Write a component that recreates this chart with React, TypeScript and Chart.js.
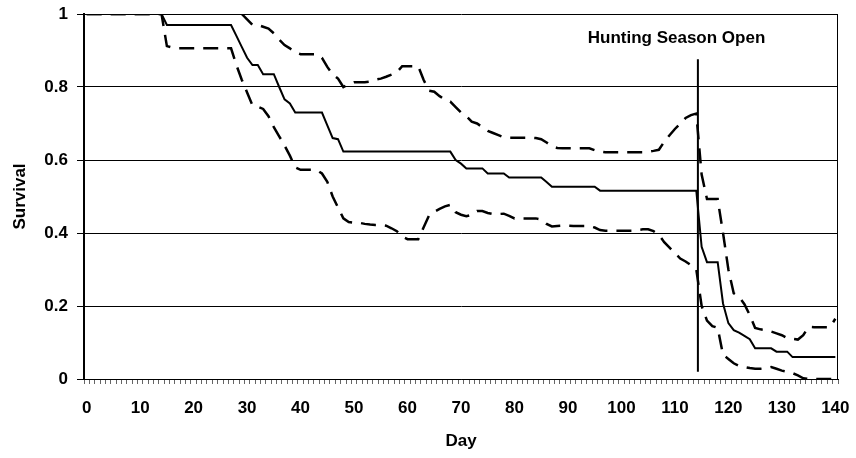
import React, { useEffect, useRef } from 'react';
import { Chart, registerables } from 'chart.js';

Chart.register(...registerables);

// ---- Data ----
const days = [
  0, 1, 2, 3, 4, 5, 6, 7, 8, 9,
  10, 11, 12, 13, 14, 15, 16, 17, 18, 19,
  20, 21, 22, 23, 24, 25, 26, 27, 28, 29,
  30, 31, 32, 33, 34, 35, 36, 37, 38, 39,
  40, 41, 42, 43, 44, 45, 46, 47, 48, 49,
  50, 51, 52, 53, 54, 55, 56, 57, 58, 59,
  60, 61, 62, 63, 64, 65, 66, 67, 68, 69,
  70, 71, 72, 73, 74, 75, 76, 77, 78, 79,
  80, 81, 82, 83, 84, 85, 86, 87, 88, 89,
  90, 91, 92, 93, 94, 95, 96, 97, 98, 99,
  100, 101, 102, 103, 104, 105, 106, 107, 108, 109,
  110, 111, 112, 113, 114, 115, 116, 117, 118, 119,
  120, 121, 122, 123, 124, 125, 126, 127, 128, 129,
  130, 131, 132, 133, 134, 135, 136, 137, 138, 139,
  140,
];

const xTickLabels = ['0', '10', '20', '30', '40', '50', '60', '70', '80', '90', '100', '110', '120', '130', '140'];
const yTickLabels = ['0', '0.2', '0.4', '0.6', '0.8', '1'];

const survival = [
  1, 1, 1, 1, 1, 1, 1, 1, 1, 1,
  1, 1, 1, 1, 1, 0.97, 0.97, 0.97, 0.97, 0.97,
  0.97, 0.97, 0.97, 0.97, 0.97, 0.97, 0.97, 0.97, 0.94, 0.91,
  0.88, 0.86, 0.86, 0.835, 0.835, 0.835, 0.8, 0.766, 0.755, 0.73,
  0.73, 0.73, 0.73, 0.73, 0.73, 0.695, 0.66, 0.657, 0.623, 0.623,
  0.623, 0.623, 0.623, 0.623, 0.623, 0.623, 0.623, 0.623, 0.623, 0.623,
  0.623, 0.623, 0.623, 0.623, 0.623, 0.623, 0.623, 0.623, 0.623, 0.6,
  0.59, 0.577, 0.577, 0.577, 0.577, 0.563, 0.563, 0.563, 0.563, 0.552,
  0.552, 0.552, 0.552, 0.552, 0.552, 0.552, 0.54, 0.527, 0.527, 0.527,
  0.527, 0.527, 0.527, 0.527, 0.527, 0.527, 0.516, 0.516, 0.516, 0.516,
  0.516, 0.516, 0.516, 0.516, 0.516, 0.516, 0.516, 0.516, 0.516, 0.516,
  0.516, 0.516, 0.516, 0.516, 0.516, 0.362, 0.32, 0.32, 0.32, 0.207,
  0.153, 0.134, 0.127, 0.118, 0.109, 0.084, 0.084, 0.084, 0.084, 0.075,
  0.075, 0.075, 0.06, 0.06, 0.06, 0.06, 0.06, 0.06, 0.06, 0.06,
  0.06,
];

const upperCI = [
  1, 1, 1, 1, 1, 1, 1, 1, 1, 1,
  1, 1, 1, 1, 1, null, null, null, null, null,
  null, null, null, null, null, null, null, null, null, 1,
  0.985, 0.97, 0.97, 0.965, 0.96, 0.947, 0.93, 0.915, 0.906, 0.895,
  0.89, 0.89, 0.89, 0.89, 0.88, 0.855, 0.835, 0.823, 0.8, 0.808,
  0.813, 0.813, 0.813, 0.815, 0.82, 0.823, 0.828, 0.834, 0.84, 0.857,
  0.857, 0.857, 0.857, 0.82, 0.79, 0.787, 0.775, 0.765, 0.76, 0.745,
  0.73, 0.72, 0.705, 0.7, 0.69, 0.68, 0.674, 0.668, 0.662, 0.661,
  0.661, 0.661, 0.661, 0.661, 0.66, 0.657, 0.648, 0.638, 0.633, 0.632,
  0.632, 0.632, 0.632, 0.632, 0.632, 0.627, 0.623, 0.621, 0.621, 0.621,
  0.621, 0.621, 0.621, 0.621, 0.621, 0.623, 0.625, 0.628, 0.65, 0.668,
  0.685, 0.7, 0.715, 0.723, 0.727, 0.56, 0.493, 0.493, 0.493, 0.4,
  0.3, 0.235, 0.225, 0.205, 0.175, 0.14, 0.136, 0.134, 0.13, 0.125,
  0.12, 0.112, 0.11, 0.108, 0.12, 0.143, 0.142, 0.142, 0.142, 0.142,
  0.165,
];

const lowerCI = [
  1, 1, 1, 1, 1, 1, 1, 1, 1, 1,
  1, 1, 1, 1, 1, 0.912, 0.908, 0.906, 0.906, 0.906,
  0.906, 0.906, 0.906, 0.906, 0.906, 0.906, 0.906, 0.906, 0.86, 0.82,
  0.785, 0.75, 0.746, 0.74, 0.72, 0.69, 0.665, 0.64, 0.612, 0.58,
  0.573, 0.573, 0.573, 0.573, 0.563, 0.54, 0.5, 0.47, 0.44, 0.43,
  0.428, 0.428, 0.425, 0.423, 0.422, 0.422, 0.42, 0.413, 0.405, 0.39,
  0.383, 0.383, 0.383, 0.415, 0.447, 0.458, 0.466, 0.473, 0.477, 0.457,
  0.45, 0.446, 0.45, 0.46, 0.46, 0.455, 0.452, 0.452, 0.453, 0.447,
  0.44, 0.44, 0.44, 0.44, 0.44, 0.437, 0.425, 0.418, 0.419, 0.42,
  0.42, 0.419, 0.419, 0.419, 0.419, 0.415, 0.408, 0.406, 0.406, 0.406,
  0.406, 0.406, 0.406, 0.408, 0.41, 0.41, 0.405, 0.395, 0.375, 0.36,
  0.345, 0.33, 0.322, 0.312, 0.3, 0.2, 0.16, 0.145, 0.14, 0.066,
  0.055, 0.043, 0.036, 0.033, 0.03, 0.028, 0.028, 0.03, 0.033, 0.028,
  0.023, 0.02, 0.016, 0.01, 0.002, 0, 0, 0, 0, 0,
  0,
];

// Annotation: vertical marker for the start of the hunting season
const huntingDay = 114.3;
const huntingLineTop = 0.876;
const huntingLineBottom = 0.02;
const huntingLabel = 'Hunting Season Open';
const huntingLabelDay = 110.3;
const huntingLabelValue = 0.92;

const FONT = 'Arial, "Liberation Sans", Helvetica, sans-serif';
const FONT_SIZE = 17;

const overlayPlugin = {
  id: 'overlay',
  afterDatasetsDraw(chart: any) {
    const { ctx, chartArea, scales } = chart;
    const x = scales.x;
    const y = scales.y;
    ctx.save();
    // plot-area frame (right edge)
    ctx.strokeStyle = '#000';
    ctx.lineWidth = 1;
    ctx.beginPath();
    ctx.moveTo(chartArea.right - 0.5, chartArea.top);
    ctx.lineTo(chartArea.right - 0.5, chartArea.bottom);
    ctx.stroke();
    // hunting season marker
    const hx = x.getPixelForValue(huntingDay);
    ctx.lineWidth = 2;
    ctx.beginPath();
    ctx.moveTo(hx, y.getPixelForValue(huntingLineTop));
    ctx.lineTo(hx, y.getPixelForValue(huntingLineBottom));
    ctx.stroke();
    ctx.font = `bold ${FONT_SIZE}px ${FONT}`;
    ctx.fillStyle = '#000';
    ctx.textAlign = 'center';
    ctx.textBaseline = 'alphabetic';
    ctx.fillText(huntingLabel, x.getPixelForValue(huntingLabelDay), y.getPixelForValue(huntingLabelValue));
    ctx.restore();
  },
};

export default function App() {
  const canvasRef = useRef<HTMLCanvasElement | null>(null);

  useEffect(() => {
    const canvas = canvasRef.current;
    if (!canvas) return;
    const tickFont = { family: FONT, size: FONT_SIZE, weight: 'bold' as const };
    const chart = new Chart(canvas, {
      type: 'line',
      data: {
        labels: days.map(String),
        datasets: [
          {
            label: 'Survival',
            data: survival,
            borderColor: '#000',
            borderWidth: 2,
            pointRadius: 0,
            tension: 0,
            fill: false,
          },
          {
            label: 'Upper 95% CI',
            data: upperCI,
            borderColor: '#000',
            borderWidth: 2.5,
            borderDash: [15, 9],
            pointRadius: 0,
            tension: 0,
            fill: false,
            spanGaps: false,
          },
          {
            label: 'Lower 95% CI',
            data: lowerCI,
            borderColor: '#000',
            borderWidth: 2.5,
            borderDash: [15, 9],
            pointRadius: 0,
            tension: 0,
            fill: false,
          },
        ],
      },
      options: {
        responsive: false,
        animation: false,
        devicePixelRatio: 1,
        layout: { padding: { left: 0, right: 18, top: 14, bottom: 0 } },
        plugins: {
          legend: { display: false },
          tooltip: { enabled: false },
        },
        scales: {
          x: {
            type: 'category',
            offset: true,
            grid: {
              display: true,
              drawOnChartArea: false,
              drawTicks: true,
              tickLength: 5,
              offset: true,
              color: '#666',
              lineWidth: 1,
            },
            border: { display: true, color: '#000', width: 1 },
            ticks: {
              autoSkip: false,
              maxRotation: 0,
              minRotation: 0,
              padding: 14,
              color: '#000',
              font: tickFont,
              callback: (_value: any, index: number) => {
                const s = String(days[index]);
                return xTickLabels.includes(s) ? s : '';
              },
            },
            title: {
              display: true,
              text: 'Day',
              color: '#000',
              font: tickFont,
              padding: { top: 0, bottom: 6 },
            },
            afterFit: (s: any) => {
              s.height = 79;
              s.paddingLeft = 0;
              s.paddingRight = 0;
            },
          },
          y: {
            min: 0,
            max: 1,
            ticks: {
              stepSize: 0.2,
              padding: 9,
              color: '#000',
              font: tickFont,
              callback: (_value: any, index: number) => yTickLabels[index] ?? '',
            },
            grid: {
              color: '#000',
              lineWidth: 1,
              drawTicks: true,
              tickLength: 7,
            },
            border: { display: true, color: '#000', width: 2 },
            title: {
              display: true,
              text: 'Survival',
              color: '#000',
              font: tickFont,
              padding: { top: 10, bottom: 0 },
            },
            afterFit: (s: any) => {
              s.width = 84;
              s.paddingTop = 0;
              s.paddingBottom = 0;
            },
          },
        },
      },
      plugins: [overlayPlugin],
    });
    return () => chart.destroy();
  }, []);

  return (
    <div style={{ position: 'fixed', left: 0, top: 0, width: 856, height: 458, background: '#fff' }}>
      <canvas ref={canvasRef} width={856} height={458} style={{ width: 856, height: 458, display: 'block' }} />
    </div>
  );
}
